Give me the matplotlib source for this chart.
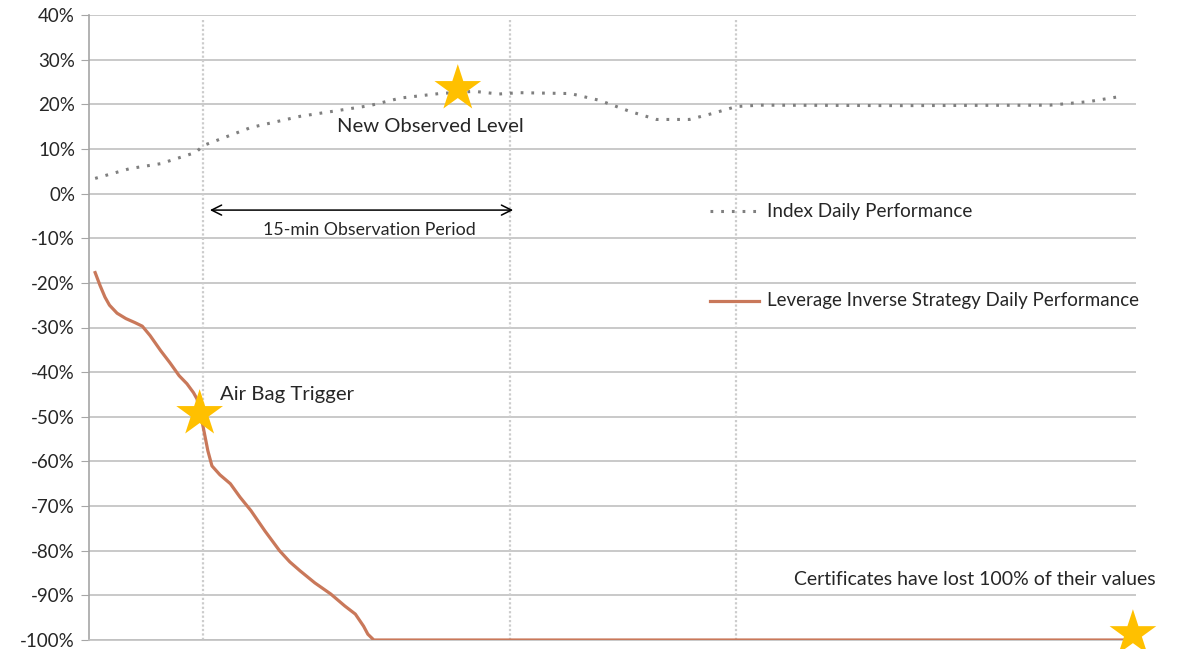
import matplotlib.pyplot as plt
from matplotlib.ticker import FuncFormatter

plt.rcParams['font.family'] = ['Lato', 'DejaVu Sans']

# -------------------------------------------------
# Data (time in minutes, values in %)
# -------------------------------------------------
index_t = [0.3, 2.0, 3.5, 5.2, 5.6, 7.9, 10.3, 13.7, 15.2, 17.1, 18.8, 20.0,
           21.0, 23.5, 24.9, 26.4, 27.7, 29.3, 30.4, 31.6, 32.7, 39.6, 46.9,
           48.8, 50.4]
index_v = [3.4, 5.6, 6.7, 9.2, 10.8, 14.8, 17.3, 19.7, 21.4, 22.4, 22.9, 22.3,
           22.6, 22.4, 20.9, 18.4, 16.6, 16.6, 17.9, 19.5, 19.8, 19.7, 19.8,
           20.6, 21.8]

strat_t = [0.3, 0.54, 0.78, 1.0, 1.37, 1.8, 2.24, 2.6, 2.98, 3.5, 3.95, 4.4,
           4.78, 5.1, 5.27, 5.4, 5.56, 5.8, 6.0, 6.39, 6.9, 7.37, 7.9, 8.59,
           9.3, 9.8, 10.3, 11.02, 11.8, 12.49, 13.0, 13.4, 13.61, 13.9, 50.5]
strat_v = [-17.7, -20.6, -23.2, -25.0, -26.8, -28.0, -28.9, -29.7, -31.8,
           -35.2, -37.9, -40.8, -42.6, -44.6, -46.0, -48.5, -52.0, -57.6,
           -61.0, -63.0, -65.0, -68.0, -71.0, -75.6, -80.0, -82.5, -84.5,
           -87.2, -89.7, -92.4, -94.2, -96.9, -98.7, -100.0, -100.0]

event_t = [5.55, 20.55, 31.6]          # vertical markers
star_t = [18.0, 5.4, 50.95]
star_v = [23.5, -49.3, -98.6]

y_ticks = list(range(-100, 41, 10))

# -------------------------------------------------
# Figure
# -------------------------------------------------
fig = plt.figure(figsize=(11.83, 6.49), dpi=100)
ax = fig.add_axes([89 / 1183, 9 / 649, (1136 - 89) / 1183, (640 - 15) / 649])

ax.set_xlim(0, 51.1)
ax.set_ylim(-100, 40)
ax.set_yticks(y_ticks)
ax.yaxis.set_major_formatter(FuncFormatter(lambda v, p: f"{v:.0f}%"))
ax.set_xticks([])

ax.grid(axis='y', color='#c0c0c0', linewidth=1.2)
ax.set_axisbelow(True)
for side in ['top', 'right']:
    ax.spines[side].set_visible(False)
ax.spines['left'].set_color('#a6a6a6')
ax.spines['left'].set_linewidth(1.2)
ax.spines['bottom'].set_color('#c0c0c0')
ax.spines['bottom'].set_linewidth(1.2)
ax.tick_params(axis='y', length=6, color='#a6a6a6', labelsize=13.5,
               labelcolor='#262626', pad=4)

for t in event_t:
    ax.plot([t, t], [-100, 38.8], color='#cccccc', linewidth=1.6,
            linestyle=(0, (1, 1)), zorder=1)

ax.plot(index_t, index_v, color='#7f7f7f', linewidth=2.2,
        linestyle=(0, (0.9, 2.6)), zorder=3)
ax.plot(strat_t, strat_v, color='#c9785a', linewidth=2.3, zorder=3,
        solid_joinstyle='round')

ax.scatter(star_t, star_v, marker='*', s=1250, color='#ffc000',
           edgecolors='none', zorder=5, clip_on=False)

# -------------------------------------------------
# Annotations
# -------------------------------------------------
ax.text(12.1, 15.0, "New Observed Level", fontsize=14.6, color='#262626',
        va='center')
ax.text(6.4, -45.0, "Air Bag Trigger", fontsize=14.7, color='#262626',
        va='center')
ax.text(34.4, -86.5, "Certificates have lost 100% of their values",
        fontsize=14, color='#262626', va='center')

ax.annotate("", xy=(5.9, -3.7), xytext=(20.7, -3.7),
            arrowprops=dict(arrowstyle='<->', color='black', lw=1.1,
                            mutation_scale=18, shrinkA=0, shrinkB=0))
ax.text(13.7, -8.2, "15-min Observation Period", fontsize=12.8,
        color='#262626', ha='center', va='center')

# legend-like entries
ax.plot([30.3, 32.6], [-4.0, -4.0], color='#7f7f7f', linewidth=2.2,
        linestyle=(0, (0.9, 2.6)))
ax.text(33.1, -4.0, "Index Daily Performance", fontsize=13.6,
        color='#262626', va='center')
ax.plot([30.3, 32.7], [-24.0, -24.0], color='#c9785a', linewidth=2.3)
ax.text(33.1, -24.0, "Leverage Inverse Strategy Daily Performance",
        fontsize=13.5, color='#262626', va='center')

plt.savefig('out.png', dpi=100)
